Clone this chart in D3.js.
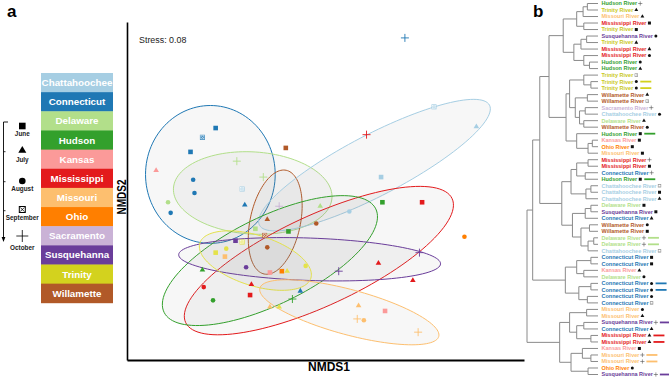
<!DOCTYPE html>
<html><head><meta charset="utf-8">
<script src="https://cdn.jsdelivr.net/npm/d3@7"></script>
<style>body{margin:0;background:#fff;} svg{display:block;font-family:"Liberation Sans",Arial,sans-serif;}</style>
</head><body><svg id="c" width="669" height="379"></svg>
<script>
// ---------- DATA ----------
const rivers = ["Chattahoochee","Connecticut","Delaware","Hudson","Kansas","Mississippi","Missouri","Ohio","Sacramento","Susquehanna","Trinity","Willamette"];
const riverColors = ["#a6cee3","#1f78b4","#b2df8a","#33a02c","#fb9a99","#e31a1c","#fdbf6f","#ff7f00","#cab2d6","#6a3d9a","#d3d21e","#b15928"];
const months = ["June","July","August","September","October"];
const monthShapes = ["square","triangle","circle","xsquare","plus"];
const stressLabel = "Stress: 0.08";

// NMDS samples (river index, month index, NMDS1, NMDS2)
const sampleRiver = [1,1,1,1,1,1,1,1,1, 0,0,0,0,0, 2,2,2,2,2, 3,3,3,3,3, 4,4,4, 5,5,5,5,5,5,5, 6,6,6,6,6,6, 7,7, 8, 9,9,9,9, 10,10,10,10,10,10, 11,11,11,11,11];
const sampleMonth = [4,0,3,0,2,2,2,1,1, 3,2,0,3,1, 2,4,4,1,0, 0,0,1,2,4, 1,0,0, 4,0,1,1,2,1,0, 0,1,1,4,2,4, 0,2, 4, 0,2,4,4, 3,2,0,2,1,1, 0,1,2,3,2];
const nmds1 = [0.60,-0.83,-0.93,-1.02,-1.00,-0.99,-1.17,-0.61,-0.19,
  -0.63,0.18,0.42,0.82,1.14,
  -1.19,-0.67,-0.47,-0.04,-0.53,
  0.43,-0.28,-0.93,-0.85,-0.25,
  -1.28,-0.42,0.45,
  0.31,0.73,0.40,0.66,-0.92,-0.56,-0.57,
  -0.76,-0.42,0.25,0.24,0.29,0.70,
  -0.33,1.05,
  -0.35,
  -0.68,-0.60,0.10,0.71,
  -0.63,-0.75,-0.83,-0.15,-0.29,-0.35,
  -0.30,-0.44,-0.07,-0.46,-0.44];
const nmds2 = [1.18,0.50,0.43,0.32,0.11,0.01,-0.14,-0.08,-0.73,
  0.04,-0.13,0.13,0.66,0.51,
  -0.06,0.25,0.13,-0.09,-0.26,
  -0.06,-0.28,-0.57,-0.80,-0.79,
  0.18,-0.59,-0.88,
  0.45,-0.06,-0.52,-0.65,-0.70,-0.68,-0.76,
  -0.47,-0.85,-0.84,-0.94,-0.95,-1.04,
  -0.58,-0.32,
  -0.09,
  -0.35,-0.55,-0.58,-0.44,
  -0.36,-0.41,-0.44,-0.54,-0.58,-0.85,
  0.35,-0.19,-0.22,-0.31,-0.40];

// ellipses (river index, centre, semi-axes, angle in degrees, NMDS units)
const ellipseRiver = [1,2,11,0,5,3,9,10,6];
const ellipseCx = [-0.87,-0.55,-0.38,0.37,-0.05,-0.42,-0.12,-0.53,0.18];
const ellipseCy = [0.15,0.01,-0.21,0.22,-0.50,-0.50,-0.49,-0.50,-0.89];
const ellipseA  = [0.49,0.60,0.40,0.98,1.11,0.89,0.99,0.44,0.70];
const ellipseB  = [0.52,0.31,0.19,0.23,0.34,0.33,0.16,0.19,0.17];
const ellipseAngle = [0,-3.5,78,27.5,24.9,26,-2,-17.5,-15.1];

// dendrogram leaves (top to bottom)
const leafRiver = [3,10,6,5,10,9,10,5,5,3,3,10,10,10,11,11,8,0,2,11,3,4,7,6,5,5,1,3,0,0,0,2,9,1,11,11,2,2,0,1,1,4,2,1,1,1,1,6,6,9,1,5,5,4,6,6,7,9];
const leafMonth = [4,1,1,0,0,2,1,1,2,2,1,3,2,2,1,3,4,2,1,2,0,0,0,0,4,0,4,0,3,0,1,0,0,1,2,0,4,4,3,0,0,1,2,2,2,2,3,2,1,4,1,1,1,0,4,4,2,4];
const leafBar   = [0,0,0,0,0,0,0,0,0,0,0,0,1,1,0,0,0,0,0,0,1,0,0,0,0,0,0,1,0,0,0,0,0,0,0,0,1,1,0,0,0,0,0,1,1,0,0,0,0,1,0,1,1,0,1,1,0,1];
// tree: [child, child, height]
const tree = [
  [
    [
      [
        [[[[0,1,0.15],2,0.21],[3,4,0.2],0.30],[[[5,6,0.16],7,0.24],[8,[9,10,0.12],0.2],0.34],0.49],
        [[[11,[12,13,0.1],0.2],[[14,15,0.15],[[16,17,0.18],[18,19,0.2],0.26],0.32],0.40],[20,[[21,22,0.08],23,0.14],0.30],0.45],
        0.69],
      [
        [[[24,25,0.14],[26,27,0.18],0.30],[[28,29,0.1],30,0.17],0.38],
        [[[31,32,0.1],33,0.18],[[34,35,0.12],[[36,37,0.06],38,0.14],0.24],0.36],
        0.51],
      0.82],
    [[[39,40,0.1],[41,42,0.2],0.30],[[43,44,0.1],[45,46,0.15],0.27],0.46],
    0.92],
  [
    [[47,48,0.16],[[49,50,0.2],[51,52,0.1],0.30],0.40],
    [[53,[54,55,0.1],0.22],[56,57,0.14],0.38],
    0.54],
  1.0];

// ---------- DRAW ----------
const svg = d3.select("#c");
const pointColors = riverColors.slice(); pointColors[10] = "#e4e24a";
const labelColors = riverColors.slice(); labelColors[10] = "#c9c81c";

function drawSymbol(g, shape, cx, cy, s, color, xsq) {
  if (shape === "square") {
    g.append("rect").attr("x", cx - s/2).attr("y", cy - s/2).attr("width", s).attr("height", s).attr("fill", color);
  } else if (shape === "triangle") {
    const h = s * 0.866;
    g.append("path").attr("d", `M${cx},${cy - 2*h/3}L${cx - s/2},${cy + h/3}L${cx + s/2},${cy + h/3}Z`).attr("fill", color);
  } else if (shape === "circle") {
    g.append("circle").attr("cx", cx).attr("cy", cy).attr("r", s/2).attr("fill", color);
  } else if (shape === "plus") {
    g.append("path").attr("d", `M${cx - s/2},${cy}H${cx + s/2}M${cx},${cy - s/2}V${cy + s/2}`)
      .attr("stroke", color).attr("stroke-width", xsq || 0.9).attr("fill", "none");
  } else if (shape === "xsquare") {
    const o = s/2, i = s/2 - 0.9;
    if (xsq === "outline") {
      g.append("rect").attr("x", cx - o).attr("y", cy - o).attr("width", s).attr("height", s)
        .attr("fill", "#fff").attr("stroke", color).attr("stroke-width", 1);
      g.append("path").attr("d", `M${cx - i},${cy - i}L${cx + i},${cy + i}M${cx + i},${cy - i}L${cx - i},${cy + i}`)
        .attr("stroke", color).attr("stroke-width", 0.8);
    } else {
      g.append("rect").attr("x", cx - o).attr("y", cy - o).attr("width", s).attr("height", s).attr("fill", color);
      g.append("rect").attr("x", cx - i).attr("y", cy - i).attr("width", 2*i).attr("height", 2*i)
        .attr("fill", "none").attr("stroke", "#fff").attr("stroke-width", 0.5);
      g.append("path").attr("d", `M${cx - i},${cy - i}L${cx + i},${cy + i}M${cx + i},${cy - i}L${cx - i},${cy + i}`)
        .attr("stroke", "#fff").attr("stroke-width", 0.5);
    }
  }
}

// panel labels
svg.append("text").attr("x", 7).attr("y", 17).attr("font-size", 17).attr("font-weight", "bold").text("a");
svg.append("text").attr("x", 533).attr("y", 17).attr("font-size", 17).attr("font-weight", "bold").text("b");

// ----- panel a scatter -----
const x = d3.scaleLinear().domain([-1.5, 1.5]).range([127, 524]);
const y = d3.scaleLinear().domain([-1.25, 1.30]).range([360, 22]);

const gE = svg.append("g");
const ell = d3.line().x(d => x(d[0])).y(d => y(d[1])).curve(d3.curveLinearClosed);
ellipseRiver.forEach((r, k) => {
  const phi = ellipseAngle[k] * Math.PI / 180;
  const pts = d3.range(0, 120).map(j => {
    const t = j / 120 * 2 * Math.PI;
    const dx = ellipseA[k] * Math.cos(t), dy = ellipseB[k] * Math.sin(t);
    return [ellipseCx[k] + dx * Math.cos(phi) - dy * Math.sin(phi), ellipseCy[k] + dx * Math.sin(phi) + dy * Math.cos(phi)];
  });
  gE.append("path").attr("d", ell(pts)).attr("fill", "#8c8c8c").attr("fill-opacity", 0.065)
    .attr("stroke", pointColors[r]).attr("stroke-width", 1);
});

const gP = svg.append("g");
const symSize = [4.6, 5.6, 4.6, 5, 8];
sampleRiver.forEach((r, i) => {
  const m = sampleMonth[i];
  drawSymbol(gP, monthShapes[m], x(nmds1[i]), y(nmds2[i]), symSize[m], pointColors[r], m === 4 ? 0.9 : null);
});

// axes
const ax = svg.append("g").attr("transform", "translate(0,360)").call(d3.axisBottom(x).ticks(0).tickSizeOuter(0));
ax.select(".domain").attr("stroke", "#000").attr("stroke-width", 2);
const ay = svg.append("g").attr("transform", "translate(127,0)").call(d3.axisLeft(y).ticks(0).tickSizeOuter(0));
ay.select(".domain").attr("stroke", "#000").attr("stroke-width", 1.6);

svg.append("text").attr("x", 329).attr("y", 371).attr("text-anchor", "middle").attr("font-size", 12)
  .attr("font-weight", "bold").text("NMDS1");
svg.append("text").attr("transform", "translate(125.5,197) rotate(-90)").attr("text-anchor", "middle")
  .attr("font-size", 12).attr("font-weight", "bold").attr("textLength", 35).attr("lengthAdjust", "spacingAndGlyphs").text("NMDS2");
svg.append("text").attr("x", 139).attr("y", 43).attr("font-size", 8.9).attr("fill", "#222").text(stressLabel);

// colour legend
const boxH = 19.15;
const gL = svg.append("g");
rivers.forEach((r, i) => {
  gL.append("rect").attr("x", 41).attr("y", 73 + i * boxH).attr("width", 72).attr("height", boxH + 0.4).attr("fill", riverColors[i]);
  gL.append("text").attr("x", 77).attr("y", 73 + i * boxH + boxH/2 + 3.5).attr("text-anchor", "middle")
    .attr("font-size", 9.8).attr("font-weight", "bold").attr("fill", "#fff").text(r);
});

// month legend
const gM = svg.append("g");
gM.append("path").attr("d", "M8,122H3.5V238").attr("stroke", "#000").attr("stroke-width", 0.9).attr("fill", "none");
gM.append("path").attr("d", "M1.6,237L5.4,237L3.5,242Z").attr("fill", "#000");
[151.7, 181.7, 210.7].forEach(t => gM.append("path").attr("d", `M3.5,${t}H5.5`).attr("stroke", "#000").attr("stroke-width", 0.8));
const mSymY = [126, 150.5, 181, 209.5, 236];
const mLabY = [135.5, 161.5, 190.5, 219.5, 250];
const mSize = [6.6, 8, 6.6, 6, 12];
months.forEach((m, i) => {
  drawSymbol(gM, monthShapes[i], 22.3, mSymY[i], mSize[i], "#000", i === 3 ? "outline" : (i === 4 ? 0.8 : null));
  gM.append("text").attr("x", 22.3).attr("y", mLabY[i]).attr("text-anchor", "middle").attr("font-size", 6.4)
    .attr("font-weight", "bold").attr("fill", "#222").text(m);
});

// ----- panel b dendrogram -----
const leafY = d3.scaleLinear().domain([0, leafRiver.length - 1]).range([3.5, 374.5]);
const hx = d3.scaleLinear().domain([0, 1]).range([598, 527]);
const gT = svg.append("g").attr("stroke", "#8a8a8a").attr("stroke-width", 1).attr("fill", "none");
function layout(node) {
  if (typeof node === "number") return { x: hx(0), y: leafY(node) };
  const h = node[node.length - 1];
  const kids = node.slice(0, -1).map(layout);
  const nx = hx(h);
  const ys = kids.map(k => k.y);
  gT.append("path").attr("d", `M${nx},${d3.min(ys)}V${d3.max(ys)}`);
  kids.forEach(k => gT.append("path").attr("d", `M${nx},${k.y}H${k.x}`));
  return { x: nx, y: d3.mean(ys) };
}
layout(tree);

const gLab = svg.append("g");
leafRiver.forEach((r, i) => {
  const yy = leafY(i);
  const t = gLab.append("text").attr("x", 601.5).attr("y", yy + 1.9).attr("font-size", 5.5).attr("font-weight", "bold")
    .attr("fill", labelColors[r]).text(rivers[r] + " River");
  const len = t.node().getComputedTextLength();
  const sx = 601.5 + len + 3;
  const m = leafMonth[i];
  const ds = [3, 3.8, 3, 3.3, 4.2][m];
  if (m === 3) {
    drawSymbol(gLab, "xsquare", sx, yy, ds, "#888", null);
  } else {
    drawSymbol(gLab, monthShapes[m], sx, yy, ds, m === 4 ? "#555" : "#111", m === 4 ? 0.6 : null);
  }
  if (leafBar[i]) {
    gLab.append("path").attr("d", `M${sx + 4},${yy}H${sx + 15}`).attr("stroke", riverColors[r]).attr("stroke-width", 1.8);
  }
});
</script>
</body></html>
